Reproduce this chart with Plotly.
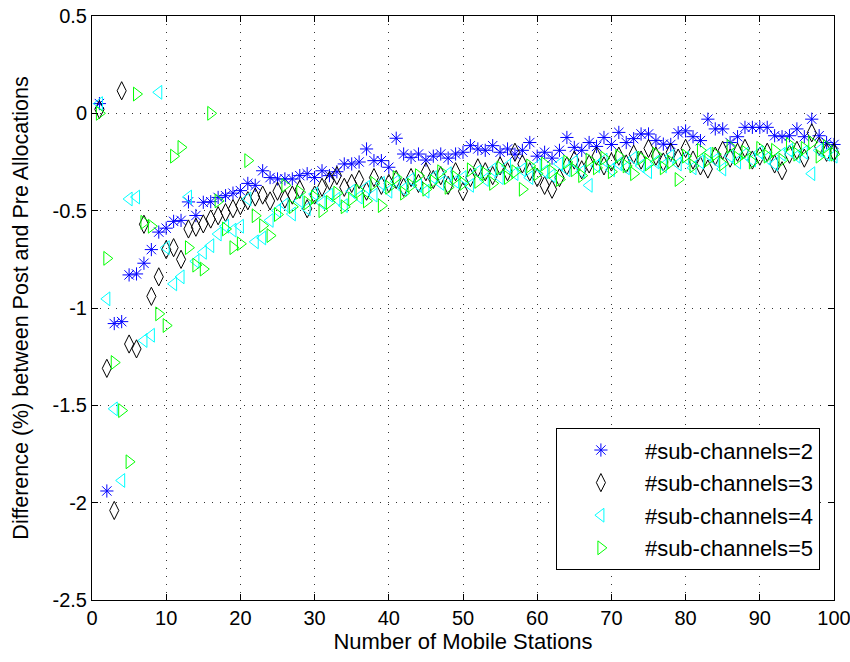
import plotly.graph_objects as go

stations = list(range(1, 101))

sc2 = [0.05, -1.94, -1.08, -1.07, -0.83, -0.825, -0.77, -0.70, -0.61, -0.59,
       -0.555, -0.55, -0.455, -0.525, -0.457, -0.454, -0.432, -0.423, -0.41, -0.397,
       -0.36, -0.37, -0.295, -0.33, -0.337, -0.337, -0.337, -0.32, -0.31, -0.33,
       -0.295, -0.32, -0.30, -0.26, -0.26, -0.25, -0.183, -0.243, -0.243, -0.277,
       -0.128, -0.209, -0.226, -0.209, -0.24, -0.22, -0.209, -0.23, -0.209, -0.20,
       -0.166, -0.183, -0.19, -0.166, -0.20, -0.183, -0.21, -0.19, -0.15, -0.22,
       -0.20, -0.23, -0.19, -0.124, -0.175, -0.19, -0.15, -0.17, -0.124, -0.16,
       -0.098, -0.15, -0.13, -0.106, -0.106, -0.14, -0.158, -0.16, -0.10, -0.09,
       -0.12, -0.14, -0.03, -0.08, -0.08, -0.15, -0.12, -0.072, -0.072, -0.072,
       -0.072, -0.115, -0.12, -0.115, -0.08, -0.12, -0.03, -0.115, -0.15, -0.16]

sc3 = [0.02, -1.31, -2.04, 0.116, -1.185, -1.21, -0.57, -0.94, -0.84, -0.70,
       -0.69, -0.75, -0.594, -0.585, -0.568, -0.543, -0.526, -0.51, -0.49, -0.474,
       -0.449, -0.43, -0.42, -0.45, -0.40, -0.44, -0.42, -0.39, -0.49, -0.42,
       -0.38, -0.346, -0.32, -0.38, -0.36, -0.34, -0.40, -0.33, -0.37, -0.36,
       -0.34, -0.38, -0.33, -0.36, -0.30, -0.34, -0.32, -0.37, -0.30, -0.40,
       -0.33, -0.28, -0.30, -0.32, -0.27, -0.30, -0.20, -0.26, -0.30, -0.33,
       -0.37, -0.39, -0.33, -0.27, -0.24, -0.29, -0.26, -0.22, -0.27, -0.25,
       -0.22, -0.26, -0.21, -0.24, -0.18, -0.22, -0.25, -0.20, -0.23, -0.18,
       -0.24, -0.27, -0.286, -0.22, -0.19, -0.23, -0.20, -0.18, -0.24, -0.22,
       -0.20, -0.26, -0.295, -0.21, -0.19, -0.23, -0.10, -0.17, -0.20, -0.20]

sc4 = [0.05, -0.953, -1.518, -1.886, -0.44, -0.43, -1.167, -1.14, 0.108, -0.69,
       -0.876, -0.84, -0.43, -0.76, -0.714, -0.68, -0.62, -0.58, -0.60, -0.58,
       -0.44, -0.66, -0.64, -0.55, -0.50, -0.47, -0.517, -0.45, -0.49, -0.414,
       -0.46, -0.42, -0.44, -0.474, -0.40, -0.43, -0.38, -0.42, -0.36, -0.40,
       -0.35, -0.39, -0.34, -0.37, -0.40, -0.33, -0.36, -0.31, -0.35, -0.33,
       -0.37, -0.30, -0.34, -0.29, -0.33, -0.27, -0.31, -0.29, -0.33, -0.27,
       -0.30, -0.32, -0.26, -0.29, -0.25, -0.30, -0.37, -0.27, -0.24, -0.29,
       -0.26, -0.28, -0.23, -0.27, -0.30, -0.25, -0.27, -0.22, -0.26, -0.23,
       -0.28, -0.25, -0.21, -0.24, -0.286, -0.22, -0.25, -0.21, -0.24, -0.20,
       -0.23, -0.26, -0.21, -0.19, -0.22, -0.20, -0.31, -0.19, -0.21, -0.22]

sc5 = [0.0, -0.745, -1.28, -1.527, -1.79, 0.099, -0.56, -0.58, -1.03, -1.09,
       -0.22, -0.175, -0.69, -0.78, -0.80, 0.0, -0.45, -0.594, -0.69, -0.67,
       -0.243, -0.526, -0.577, -0.628, -0.52, -0.37, -0.48, -0.405, -0.46, -0.43,
       -0.50, -0.457, -0.41, -0.48, -0.44, -0.40, -0.45, -0.36, -0.474, -0.38,
       -0.33, -0.41, -0.37, -0.32, -0.39, -0.35, -0.30, -0.38, -0.33, -0.36,
       -0.29, -0.35, -0.31, -0.36, -0.28, -0.33, -0.30, -0.39, -0.27, -0.31,
       -0.26, -0.30, -0.34, -0.25, -0.29, -0.32, -0.24, -0.28, -0.23, -0.30,
       -0.22, -0.27, -0.31, -0.23, -0.26, -0.21, -0.28, -0.25, -0.34, -0.22,
       -0.27, -0.19, -0.24, -0.21, -0.26, -0.17, -0.23, -0.20, -0.25, -0.18,
       -0.22, -0.19, -0.24, -0.16, -0.21, -0.18, -0.15, -0.22, -0.17, -0.21]

series_names = ["#sub-channels=2", "#sub-channels=3", "#sub-channels=4", "#sub-channels=5"]

x_ticks = [0, 10, 20, 30, 40, 50, 60, 70, 80, 90, 100]
x_tick_text = ["0", "10", "20", "30", "40", "50", "60", "70", "80", "90", "100"]
y_ticks = [0.5, 0, -0.5, -1, -1.5, -2, -2.5]
y_tick_text = ["0.5", "0", "-0.5", "-1", "-1.5", "-2", "-2.5"]

styles = [
    dict(symbol="asterisk-open", color="#0000FF", size=11),
    dict(symbol="diamond-tall-open", color="#000000", size=13),
    dict(symbol="triangle-left-open", color="#00FFFF", size=12),
    dict(symbol="triangle-right-open", color="#00FF00", size=12),
]

FONT = "Liberation Sans, Arial, sans-serif"

fig = go.Figure()
for i, (name, ys, st) in enumerate(zip(series_names, [sc2, sc3, sc4, sc5], styles)):
    fig.add_trace(go.Scatter(
        x=stations, y=ys, mode="markers", name=name, legendgroup=f"g{i}",
        cliponaxis=False,
        marker=dict(symbol=st["symbol"], size=st["size"], color=st["color"],
                    line=dict(color=st["color"], width=1)),
    ))

axis_common = dict(
    showline=True, linecolor="black", linewidth=1, mirror="ticks",
    ticks="inside", ticklen=6, tickcolor="black",
    showgrid=True, gridcolor="#333333", gridwidth=1, griddash="1px,7px",
    zeroline=False, automargin=False, ticklabeloverflow="allow",
    tickfont=dict(family=FONT, size=20, color="black"),
)

fig.update_xaxes(range=[0, 100], tickvals=x_ticks, ticktext=x_tick_text,
                 title=dict(text="Number of Mobile Stations", font=dict(family=FONT, size=22, color="black"), standoff=5),
                 **axis_common)
fig.update_yaxes(range=[-2.5, 0.5], tickvals=y_ticks, ticktext=y_tick_text,
                 title=dict(text="Difference (%) between Post and Pre Allocations", font=dict(family=FONT, size=21.5, color="black"), standoff=18),
                 **axis_common)

fig.update_layout(
    width=850, height=662,
    margin=dict(l=92, r=16, t=16, b=62),
    paper_bgcolor="white", plot_bgcolor="white",
    showlegend=True,
    legend=dict(x=0.981, y=0.051, xanchor="right", yanchor="bottom",
                bgcolor="white", bordercolor="black", borderwidth=1,
                font=dict(family=FONT, size=22, color="black"),
                tracegroupgap=1, itemwidth=78),
)

# remove the browser's default 8px page margin so the figure fills the window
fig.write_html("out.html", config={"displayModeBar": False},
               post_script="document.body.style.margin='0px';")
